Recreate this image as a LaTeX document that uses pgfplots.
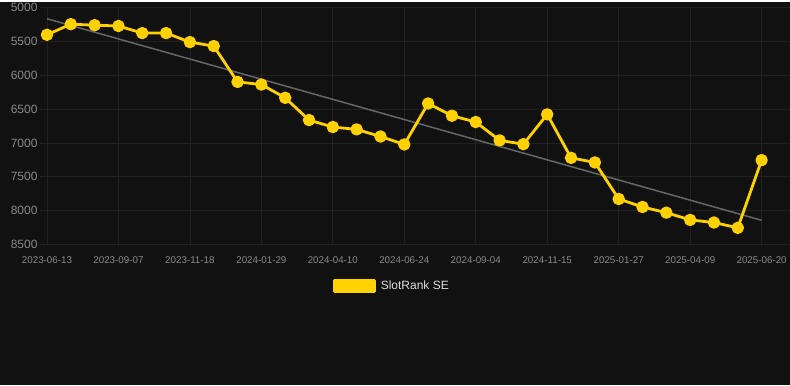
\documentclass[border=0pt]{standalone}
\usepackage{pgfplots}
\pgfplotsset{compat=1.18}
\usepackage{fontspec}
\setmainfont{Liberation Sans}
\definecolor{bg}{HTML}{111111}
\definecolor{gridc}{HTML}{212121}
\definecolor{tickc}{HTML}{8A8A8A}
\definecolor{gold}{HTML}{FFD100}
\definecolor{trend}{HTML}{666666}
\definecolor{legc}{HTML}{DDDDDD}
\begin{document}
\begin{tikzpicture}
\fill[bg] (0pt,0pt) rectangle (790pt,-384pt);
\begin{axis}[
  anchor=north west, at={(40pt,-6pt)},
  scale only axis, width=750pt, height=237pt,
  xmin=-0.294, xmax=31.175,
  ymin=5000, ymax=8500, y dir=reverse,
  axis line style={draw=none},
  grid=major, major grid style={gridc, line width=0.7pt},
  xtick={0,3,...,30},
  xticklabels={2023-06-13,2023-09-07,2023-11-18,2024-01-29,2024-04-10,2024-06-24,2024-09-04,2024-11-15,2025-01-27,2025-04-09,2025-06-20},
  ytick={5000,5500,...,8500},
  yticklabels={5000,5500,6000,6500,7000,7500,8000,8500},
  tick style={draw=none},
  x tick label style={font=\fontsize{9.8}{11}\selectfont, text=tickc, anchor=center, yshift=-16pt},
  y tick label style={font=\fontsize{12}{14}\selectfont, text=tickc, anchor=east, xshift=1pt},
  xticklabel shift=0pt,
  legend style={at={(0.4695,-0.177)}, anchor=center, fill=none, draw=none,
    text=legc, font=\fontsize{12}{14}\selectfont, legend cell align=left},
  clip=false,
]
\addplot[trend, line width=1.5pt, forget plot] coordinates {(0,5165) (30,8143)};
\addplot[gold, line width=2.8pt, line join=round, mark=*, mark size=4.8pt, mark options={solid, fill=gold, draw=none},
  legend image code/.code={\fill[gold] (-2pt,-5.5pt) rectangle (38pt,5.5pt);}]
coordinates {
(0,5402) (1,5245) (2,5260) (3,5272) (4,5377) (5,5377) (6,5510) (7,5569) (8,6098) (9,6137)
(10,6333) (11,6662) (12,6765) (13,6800) (14,6905) (15,7022) (16,6417) (17,6598) (18,6691) (19,6962)
(20,7018) (21,6578) (22,7220) (23,7288) (24,7828) (25,7946) (26,8030) (27,8137) (28,8176) (29,8254)
(30,7254)};
\addlegendentry{\hspace{3pt}SlotRank SE}
\end{axis}
\end{tikzpicture}
\end{document}
